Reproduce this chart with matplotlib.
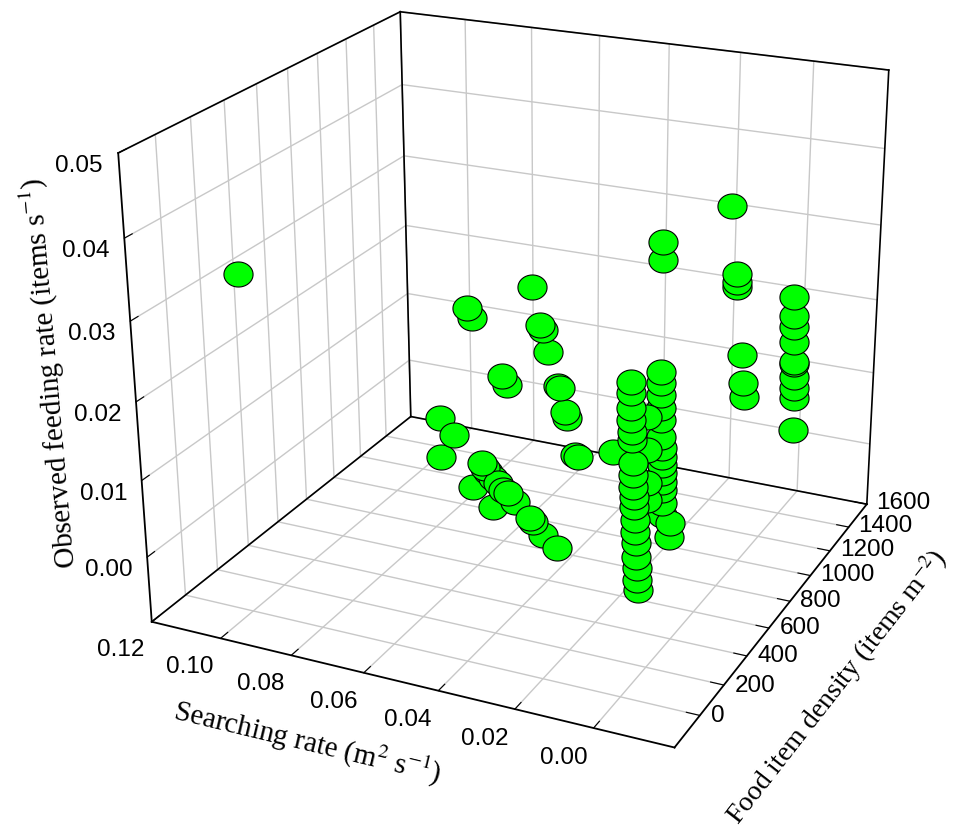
import numpy as np
import matplotlib
matplotlib.use("Agg")
import matplotlib.pyplot as plt

# searching rate (m2 s-1), food item density (items m-2), observed feeding rate (items s-1)
lone_x = [0.1114]
lone_z = [0.0306]
lone_y = [250]

chain_x = [0.0622, 0.0584, 0.0507, 0.0499, 0.0491, 0.0478, 0.0464, 0.0450, 0.0437, 0.0418,
           0.0377, 0.0369, 0.0342, 0.0304, 0.0621, 0.0533, 0.0479]
chain_z = [0.0142, 0.0123, 0.0094, 0.0088, 0.0083, 0.0077, 0.0071, 0.0064, 0.0061, 0.0051,
           0.0034, 0.0029, 0.0015, 0.0002, 0.0091, 0.0060, 0.0038]
chain_y = [400] * len(chain_x)

steep_x = [0.0609, 0.0587, 0.0578, 0.0564, 0.0535, 0.0529, 0.0515, 0.0509, 0.0486, 0.0477,
           0.0801, 0.0787, 0.0700, 0.0685, 0.0375]
steep_z = [0.0224, 0.0174, 0.0168, 0.0139, 0.0095, 0.0093, 0.0061, 0.0053, 0.0003, 0.0001,
           0.0180, 0.0168, 0.0095, 0.0083, 0.0017]
steep_y = [1066] * len(steep_x)

col_a_x = [0.0046, 0.0046, 0.0045, 0.0045, 0.0042, 0.0042, 0.0039, 0.0038, 0.0038, 0.0035,
           0.0035, 0.0032, 0.0032, 0.0029, 0.0029, 0.0026, 0.0025, 0.0022]
col_a_z = [0.0266, 0.0253, 0.0235, 0.0221, 0.0206, 0.0197, 0.0169, 0.0154, 0.0139, 0.0127,
           0.0115, 0.0099, 0.0084, 0.0070, 0.0053, 0.0039, 0.0024, 0.0011]
col_a_y = [200] * len(col_a_x)

col_b_x = [0.0037, 0.0036, 0.0035, 0.0034]
col_b_z = [0.0210, 0.0170, 0.0129, 0.0107]
col_b_y = [300] * len(col_b_x)

col_c_x = [0.0035, 0.0034, 0.0034, 0.0033, 0.0033, 0.0032, 0.0029, 0.0029, 0.0028, 0.0028,
           0.0028, 0.0027, 0.0027, 0.0026, 0.0005, 0.0007]
col_c_z = [0.0251, 0.0238, 0.0223, 0.0207, 0.0192, 0.0171, 0.0157, 0.0146, 0.0136, 0.0126,
           0.0115, 0.0105, 0.0088, 0.0073, 0.0065, 0.0046]
col_c_y = [400] * len(col_c_x)

back_x = [0.0030, 0.0028, 0.0026, 0.0025, 0.0023, 0.0023, 0.0021, 0.0020, 0.0019, 0.0018,
          0.0172, 0.0167, 0.0163, 0.0193, 0.0192, 0.0192, 0.0212, 0.0287, 0.0286]
back_z = [0.0186, 0.0160, 0.0145, 0.0124, 0.0096, 0.0093, 0.0075, 0.0060, 0.0046, 0.0000,
          0.0094, 0.0054, 0.0034, 0.0205, 0.0194, 0.0187, 0.0297, 0.0290, 0.0266]
back_y = [1600] * 17 + [1208] * 2

x_ticks = [0.0, 0.02, 0.04, 0.06, 0.08, 0.10, 0.12]
y_ticks = [0, 200, 400, 600, 800, 1000, 1200, 1400, 1600]
z_ticks = [0.0, 0.01, 0.02, 0.03, 0.04, 0.05]

xs = lone_x + chain_x + steep_x + col_a_x + col_b_x + col_c_x + back_x
ys = lone_y + chain_y + steep_y + col_a_y + col_b_y + col_c_y + back_y
zs = lone_z + chain_z + steep_z + col_a_z + col_b_z + col_c_z + back_z

x_lo, x_hi = -0.02, 0.12
y_lo, y_hi = -202, 1600
z_lo, z_hi = -0.00864, 0.05

plt.rcParams['grid.color'] = '#c8c8c8'
plt.rcParams['grid.linewidth'] = 1.0
plt.rcParams['mathtext.fontset'] = 'stix'

fig = plt.figure(figsize=(9.6, 8.34), dpi=100)
ax = fig.add_axes([0.0339, 0.0749, 1, 1], projection='3d', proj_type='persp',
                  focal_length=0.5555)
ax.view_init(elev=22.38, azim=-64.36, roll=0.41)
ax.set_box_aspect((1, 0.9815, 0.8716), zoom=1.073)

# black outline of the back walls and floor
frame = [([x_hi, x_hi], [y_lo, y_hi], [z_lo, z_lo]),
         ([x_hi, x_lo], [y_hi, y_hi], [z_lo, z_lo]),
         ([x_lo, x_lo], [y_hi, y_hi], [z_lo, z_hi]),
         ([x_hi, x_hi], [y_hi, y_hi], [z_lo, z_hi]),
         ([x_hi, x_lo], [y_hi, y_hi], [z_hi, z_hi]),
         ([x_hi, x_hi], [y_lo, y_hi], [z_hi, z_hi])]
for fx, fy, fz in frame:
    ax.plot(fx, fy, fz, color='black', linewidth=1.2)

theta = np.linspace(0, 2 * np.pi, 60)
ellipse = np.column_stack([np.cos(theta), 0.86 * np.sin(theta)])
ax.scatter(xs, ys, zs, s=440, marker=ellipse, c='#00ff00', edgecolors='black',
           linewidths=0.8, depthshade=False, alpha=1)

# searching rate runs from right to left
ax.set_xlim(x_hi, x_lo)
ax.set_ylim(y_lo, y_hi)
ax.set_zlim(z_lo, z_hi)

ax.set_xticks(x_ticks)
ax.set_yticks(y_ticks)
ax.set_zticks(z_ticks)
ax.set_xticklabels([f"{v:.2f}" for v in x_ticks])
ax.set_yticklabels([str(v) for v in y_ticks])
ax.set_zticklabels([f"{v:.2f}" for v in z_ticks])
ax.zaxis.set_ticks_position('lower')

for axis in (ax.xaxis, ax.yaxis, ax.zaxis):
    axis.set_pane_color((1, 1, 1, 1))
    axis.line.set_color('black')
    axis.line.set_linewidth(1.3)
    axis._axinfo['tick']['inward_factor'] = 0.0
    axis._axinfo['tick']['outward_factor'] = 0.3
    axis._axinfo['tick']['color'] = 'black'
ax.tick_params(axis='both', labelsize=17.5)
ax.tick_params(axis='x', pad=0.0)
ax.tick_params(axis='y', pad=-1.7)
ax.tick_params(axis='z', pad=-2.4)
for lab in ax.get_xticklabels() + ax.get_yticklabels() + ax.get_zticklabels():
    lab.set_fontfamily('Liberation Sans')
for lab in ax.get_xticklabels():
    lab.set_horizontalalignment('right')
for lab in ax.get_yticklabels():
    lab.set_horizontalalignment('left')
    lab.set_verticalalignment('bottom')
for lab in ax.get_zticklabels():
    lab.set_horizontalalignment('right')

serif = 'Liberation Serif'
fig.text(0.052, 0.553, r"Observed feeding rate (items s$^{-1}$)", rotation=95,
         fontsize=21, family=serif, ha='center', va='center')
fig.text(0.320, 0.110, r"Searching rate (m$^{2}$ s$^{-1}$)", rotation=-13.5,
         fontsize=21, family=serif, ha='center', va='center')
fig.text(0.872, 0.176, r"Food item density (items m$^{-2}$)", rotation=52,
         fontsize=20, family=serif, ha='center', va='center')

fig.savefig('out.png', dpi=100)
